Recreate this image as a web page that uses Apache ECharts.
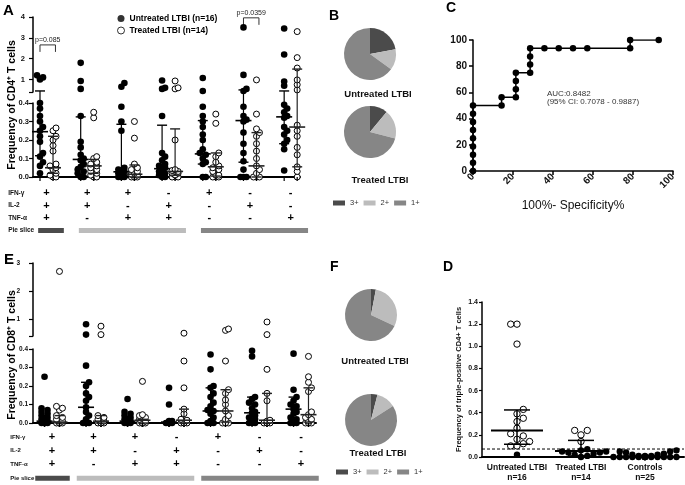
<!DOCTYPE html>
<html><head><meta charset="utf-8">
<script src="https://cdn.jsdelivr.net/npm/echarts@6/dist/echarts.min.js"></script>
<style>html,body{margin:0;padding:0;background:#fff}#c{width:685px;height:485px}</style>
</head><body><div id="c"></div>
<script>
const FONT = '"Liberation Sans", Arial, sans-serif';

// ---------- DATA ----------
const cytokineRows = ['IFN-γ', 'IL-2', 'TNF-α'];
const comboSigns = [['+','+','+'],['+','+','-'],['+','-','+'],['-','+','+'],['+','-','-'],['-','+','-'],['-','-','+']];
const pieSliceNames = ['3+', '2+', '1+'];
const pieSliceGroups = [[0, 0], [1, 3], [4, 6]];
const legendUntreated = 'Untreated LTBI (n=16)';
const legendTreated = 'Treated LTBI (n=14)';

// Panel A: CD4 (frequency per column, 7 cytokine combinations)
const cd4Untreated = [
  [1.2, 1.1, 1.0, 0.4, 0.37, 0.33, 0.3, 0.27, 0.25, 0.22, 0.19, 0.13, 0.11, 0.08, 0.06, 0.02],
  [1.8, 0.93, 0.55, 0.33, 0.19, 0.16, 0.12, 0.1, 0.09, 0.07, 0.055, 0.04, 0.03, 0.02, 0, 0],
  [0.83, 0.65, 0.38, 0.3, 0.25, 0.05, 0.04, 0.03, 0.03, 0.02, 0.01, 0.01, 0, 0, 0, 0],
  [0.95, 0.6, 0.55, 0.33, 0.13, 0.11, 0.09, 0.07, 0.06, 0.05, 0.045, 0.03, 0.02, 0.01, 0, 0],
  [1.07, 0.45, 0.38, 0.33, 0.3, 0.27, 0.23, 0.2, 0.15, 0.13, 0.12, 0.1, 0.08, 0.07, 0, 0],
  [3.5, 1.22, 0.55, 0.45, 0.38, 0.33, 0.31, 0.3, 0.24, 0.18, 0.13, 0.085, 0.04, 0, 0, 0],
  [3.45, 2.2, 0.9, 0.7, 0.39, 0.37, 0.35, 0.33, 0.32, 0.27, 0.25, 0.23, 0.2, 0.18, 0.15, 0.035]
];
const cd4Treated = [
  [0.265, 0.25, 0.22, 0.2, 0.17, 0.14, 0.07, 0.06, 0.05, 0.04, 0.02, 0.01, 0, 0],
  [0.35, 0.32, 0.11, 0.1, 0.08, 0.07, 0.06, 0.05, 0.04, 0.03, 0.02, 0.01, 0, 0],
  [0.3, 0.21, 0.07, 0.05, 0.04, 0.03, 0.02, 0.015, 0.01, 0.01, 0, 0, 0, 0],
  [0.93, 0.6, 0.55, 0.2, 0.04, 0.035, 0.03, 0.03, 0.02, 0.02, 0.01, 0, 0, 0],
  [0.34, 0.29, 0.13, 0.11, 0.08, 0.06, 0.05, 0.04, 0.03, 0.01, 0.01, 0, 0, 0],
  [0.98, 0.34, 0.26, 0.24, 0.22, 0.18, 0.14, 0.1, 0.06, 0.04, 0.02, 0, 0, 0],
  [3.3, 2.05, 1.55, 0.98, 0.75, 0.5, 0.28, 0.25, 0.22, 0.16, 0.12, 0.055, 0.03, 0]
];
// [Q1, median, Q3]
const cd4UntreatedIQR = [[0.115,0.245,0.45],[0.055,0.095,0.325],[0,0.028,0.285],[0.02,0.045,0.28],[0.07,0.125,0.305],[0.08,0.305,0.5],[0.18,0.325,0.45]];
const cd4TreatedIQR = [[0.02,0.05,0.22],[0.02,0.06,0.095],[0,0.015,0.065],[0.01,0.03,0.26],[0.005,0.055,0.13],[0,0.06,0.24],[0.055,0.27,1.5]];
const cd4PLabels = ['p=0.085', 'p=0.0359'];
const cd4PColumns = [0, 5];
const cd4PHeights = [2.66, 3.96];

// Panel E: CD8
const cd8Untreated = [
  [0.25, 0.08, 0.07, 0.06, 0.05, 0.04, 0.03, 0.02, 0.01, 0.01, 0, 0, 0, 0, 0, 0],
  [0.82, 0.45, 0.31, 0.22, 0.2, 0.16, 0.14, 0.12, 0.085, 0.06, 0.04, 0.02, 0, 0, 0, 0],
  [0.13, 0.06, 0.05, 0.04, 0.03, 0.02, 0.02, 0.01, 0.01, 0, 0, 0, 0, 0, 0, 0],
  [0.19, 0.1, 0.01, 0.01, 0, 0, 0, 0, 0, 0, 0, 0, 0, 0, 0, 0],
  [0.37, 0.29, 0.2, 0.19, 0.16, 0.14, 0.11, 0.09, 0.07, 0.065, 0.05, 0.03, 0.01, 0, 0, 0],
  [0.39, 0.36, 0.14, 0.13, 0.11, 0.1, 0.08, 0.06, 0.055, 0.04, 0.03, 0.02, 0.01, 0, 0, 0],
  [0.375, 0.18, 0.14, 0.12, 0.1, 0.09, 0.075, 0.06, 0.05, 0.03, 0.02, 0.01, 0, 0, 0, 0]
];
const cd8Treated = [
  [2.7, 0.09, 0.08, 0.07, 0.04, 0.03, 0.02, 0.01, 0.01, 0, 0, 0, 0, 0],
  [0.75, 0.45, 0.04, 0.03, 0.02, 0.01, 0.01, 0, 0, 0, 0, 0, 0, 0],
  [0.225, 0.045, 0.04, 0.03, 0.02, 0.01, 0.01, 0, 0, 0, 0, 0, 0, 0],
  [0.5, 0.335, 0.19, 0.075, 0.05, 0.02, 0.015, 0.01, 0, 0, 0, 0, 0, 0],
  [0.65, 0.6, 0.335, 0.18, 0.16, 0.125, 0.1, 0.065, 0.04, 0.02, 0, 0, 0, 0],
  [0.9, 0.45, 0.29, 0.16, 0.12, 0.015, 0.01, 0, 0, 0, 0, 0, 0, 0],
  [0.36, 0.25, 0.22, 0.19, 0.17, 0.06, 0.045, 0.03, 0.02, 0.01, 0, 0, 0, 0]
];
const cd8UntreatedIQR = [[0,0.01,0.04],[0,0.085,0.22],[0,0.01,0.035],[0,0.005,0.01],[0.005,0.065,0.19],[0,0.055,0.14],[0.005,0.075,0.14]];
const cd8TreatedIQR = [[0,0.005,0.04],[0,0.01,0.04],[0,0.015,0.02],[0,0.015,0.075],[0.005,0.065,0.18],[0,0.015,0.16],[0.005,0.045,0.19]];

// Pies (% of 3+, 2+, 1+)
const pieBUntreated = [22, 13, 65];
const pieBTreated = [11, 18, 71];
const pieFUntreated = [3, 29, 68];
const pieFTreated = [4, 12, 84];

// Panel C: ROC
const rocFpr = [0,0,0,0,0,0,0,0,0,14.29,14.29,21.43,21.43,21.43,21.43,28.57,28.57,28.57,28.57,35.71,42.86,50,57.14,78.57,78.57,92.86];
const rocSens = [0,6.25,12.5,18.75,25,31.25,37.5,43.75,50,50,56.25,56.25,62.5,68.75,75,75,81.25,87.5,93.75,93.75,93.75,93.75,93.75,93.75,100,100];
const aucLines = ['AUC:0.8482', '(95% CI: 0.7078 - 0.9887)'];

// Panel D
const dGroups = ['Untreated LTBI', 'Treated LTBI', 'Controls'];
const dCounts = ['n=16', 'n=14', 'n=25'];
const dUntreated = [1.2, 1.2, 1.02, 0.43, 0.39, 0.35, 0.32, 0.26, 0.21, 0.19, 0.16, 0.14, 0.12, 0.1, 0.1, 0.02];
const dTreated = [0.24, 0.24, 0.2, 0.14, 0.07, 0.06, 0.05, 0.05, 0.04, 0.04, 0.03, 0.02, 0.01, 0];
const dControls = [0.06, 0.05, 0.05, 0.04, 0.03, 0.02, 0.02, 0.01, 0.01, 0.01, 0, 0, 0, 0, 0, 0, 0, 0, 0, 0, 0, 0, 0, 0, 0];
const dIQR = [[0.115, 0.24, 0.425], [0.01, 0.055, 0.15], [0, 0, 0.01]];
const dCutoff = 0.072;

// ---------- STYLE ----------
const sliceColors = { '3+': '#4b4b4b', '2+': '#bcbcbc', '1+': '#868686' };

function swarm(pts, step, maxK, minD) {
  const ks = [0];
  for (let k = 1; k <= maxK; k++) ks.push(k, -k);
  const placed = [];
  pts.forEach(p => {
    let bx = p[0], bs = -1;
    for (const k of ks) {
      const cx = p[0] + k * step;
      let dmin = Infinity;
      for (const q of placed) { const d = Math.hypot(cx - q[0], p[1] - q[1]); if (d < dmin) dmin = d; }
      if (dmin >= minD) { bx = cx; break; }
      if (dmin > bs) { bs = dmin; bx = cx; }
    }
    placed.push([bx, p[1]]);
  });
  return placed;
}
function ln(x1, y1, x2, y2, w, c) {
  return { type: 'line', shape: { x1, y1, x2, y2 }, style: { stroke: c || '#000', lineWidth: w } };
}
function makeCols(untreated, treated, uIQR, tIQR, off) {
  const cols = [];
  untreated.forEach((v, i) => {
    cols.push({ x: i - off, vals: v, iqr: uIQR[i], filled: true });
    cols.push({ x: i + off, vals: treated[i], iqr: tIQR[i], filled: false });
  });
  return cols;
}
function colSeries(cols, idx, part, brk, gap) {
  return {
    type: 'custom', xAxisIndex: idx, yAxisIndex: idx, silent: true, clip: false, z: 5,
    data: cols.map(c => [c.x, 0]),
    renderItem: (params, api) => {
      const c = cols[params.dataIndex];
      const ch = [];
      const vals = c.vals.filter(v => part === 'upper' ? v > brk : v <= brk).sort((a, b) => a - b);
      const pts = vals.map(v => api.coord([c.x, v]));
      swarm(pts, 3, 1, 4).forEach(p => {
        ch.push({ type: 'circle', shape: { cx: p[0], cy: p[1], r: c.filled ? 3.3 : 3 },
          style: c.filled ? { fill: '#000' } : { fill: '#fff', stroke: '#000', lineWidth: 1 } });
      });
      const [q1, med, q3] = c.iqr;
      const xc = api.coord([c.x, 0])[0];
      const col = c.filled ? '#000' : '#222';
      if (part === 'upper') {
        if (q3 > brk) {
          const yT = api.coord([c.x, q3])[1];
          const yB = api.coord([c.x, brk])[1] + gap;
          ch.push(ln(xc, yT, xc, yB, 1.2, col));
          ch.push(ln(xc - 5, yT, xc + 5, yT, 1.4, col));
        }
      } else {
        const y0 = api.coord([c.x, 0])[1];
        const y1 = api.coord([c.x, q1])[1];
        const yT = q3 > brk ? api.coord([c.x, brk])[1] : api.coord([c.x, q3])[1];
        const ym = api.coord([c.x, med])[1];
        ch.push(ln(xc, y1, xc, yT, 1.2, col));
        ch.push(ln(xc - 5, y1, xc + 5, y1, 1.4, col));
        if (q3 <= brk) ch.push(ln(xc - 5, yT, xc + 5, yT, 1.4, col));
        ch.push(ln(xc - 8, ym, xc + 8, ym, 1.6, col));
        ch.push(ln(xc, y0, xc, y0 + 4, 1.2, '#000'));
      }
      return { type: 'group', children: ch };
    }
  };
}
function signSeries(idx) {
  const items = [], txt = [];
  comboSigns.forEach((s, i) => s.forEach((sg, r) => { items.push([i, 3 - r]); txt.push(sg); }));
  return {
    type: 'custom', xAxisIndex: idx, yAxisIndex: idx, silent: true, clip: false, data: items,
    renderItem: (params, api) => {
      const p = api.coord([api.value(0), api.value(1)]);
      return { type: 'text', x: p[0], y: p[1], style: { text: txt[params.dataIndex], align: 'center', verticalAlign: 'middle', fill: '#000', font: 'bold 11px ' + FONT } };
    }
  };
}
function sliceSeries(idx, insetL, insetR) {
  return {
    type: 'custom', xAxisIndex: idx, yAxisIndex: idx, silent: true, clip: false,
    data: pieSliceGroups.map(g => [g[0], 0, g[1]]),
    renderItem: (params, api) => {
      const g = pieSliceGroups[params.dataIndex];
      const p0 = api.coord([g[0], 0]), p1 = api.coord([g[1], 0]);
      const bw = api.size([1, 0])[0];
      return { type: 'rect', shape: { x: p0[0] - bw / 2 + insetL, y: p0[1] - 2.5, width: p1[0] - p0[0] + bw - insetL - insetR, height: 5 },
        style: { fill: sliceColors[pieSliceNames[params.dataIndex]] } };
    }
  };
}
function pie(center, vals) {
  return { type: 'pie', center, radius: [0, 26], startAngle: 90, clockwise: true, silent: true,
    label: { show: false }, labelLine: { show: false }, emphasis: { disabled: true },
    itemStyle: { borderWidth: 0 },
    data: pieSliceNames.map((n, i) => ({ name: n, value: vals[i], itemStyle: { color: sliceColors[n] } })) };
}

const colsA = makeCols(cd4Untreated, cd4Treated, cd4UntreatedIQR, cd4TreatedIQR, 0.16);
const colsE = makeCols(cd8Untreated, cd8Treated, cd8UntreatedIQR, cd8TreatedIQR, 0.18);
const dCols = [dUntreated, dTreated, dControls].map((v, i) => ({ x: i, vals: v, iqr: dIQR[i] }));

const blackLine = w => ({ show: true, onZero: false, lineStyle: { color: '#000', width: w } });
const lbl = (size, extra) => Object.assign({ fontSize: size, fontWeight: 'bold', fontFamily: FONT, color: '#111' }, extra || {});
const catData = comboSigns.map((_, i) => String(i));
const tableRows = ['Pie slice'].concat(cytokineRows.slice().reverse());

const xA = { min: -0.332, max: 6.229 };
const xE = { min: -0.458, max: 6.361 };

const option = {
  animation: false,
  grid: [
    { left: 33, top: 17, width: 267, height: 75 },
    { left: 33, top: 103, width: 267, height: 74 },
    { left: 26.15, top: 186.75, width: 284.9, height: 50 },
    { left: 473, top: 40, width: 200, height: 131 },
    { left: 33, top: 263, width: 283, height: 73 },
    { left: 33, top: 349, width: 283, height: 74 },
    { left: 31.25, top: 430, width: 290.5, height: 56 },
    { left: 482, top: 302, width: 202, height: 155 }
  ],
  xAxis: [
    Object.assign({ gridIndex: 0, type: 'value', show: false }, xA),
    Object.assign({ gridIndex: 1, type: 'value', axisLine: blackLine(2), axisTick: { show: false }, axisLabel: { show: false }, splitLine: { show: false } }, xA),
    { gridIndex: 2, type: 'category', data: catData, show: false },
    { gridIndex: 3, type: 'value', min: 0, max: 100, interval: 20, name: '100%- Specificity%', nameLocation: 'middle', nameGap: 29,
      nameTextStyle: { fontSize: 12, fontFamily: FONT, color: '#111' }, axisLine: blackLine(1.5),
      axisTick: { length: 4, lineStyle: { color: '#000', width: 1.5 } }, axisLabel: lbl(10, { rotate: 45, margin: 4 }), splitLine: { show: false } },
    Object.assign({ gridIndex: 4, type: 'value', show: false }, xE),
    Object.assign({ gridIndex: 5, type: 'value', axisLine: blackLine(2), axisTick: { show: false }, axisLabel: { show: false }, splitLine: { show: false } }, xE),
    { gridIndex: 6, type: 'category', data: catData, show: false },
    { gridIndex: 7, type: 'value', min: -0.547, max: 2.61, axisLine: blackLine(2), axisTick: { show: false }, splitLine: { show: false },
      axisLabel: lbl(8.5, { customValues: [0, 1, 2], lineHeight: 10, margin: 6, formatter: v => dGroups[Math.round(v)] + '\n' + dCounts[Math.round(v)] }) }
  ],
  yAxis: [
    { gridIndex: 0, type: 'value', min: 0.4, max: 4, axisLine: blackLine(1.5), splitLine: { show: false },
      axisTick: { customValues: [0.4, 1, 2, 3, 4], length: 4, lineStyle: { color: '#000', width: 1.2 } },
      axisLabel: lbl(7.5, { customValues: [1, 2, 3, 4], margin: 8 }) },
    { gridIndex: 1, type: 'value', min: 0, max: 0.4, interval: 0.1, axisLine: blackLine(1.5), splitLine: { show: false },
      axisTick: { length: 4, lineStyle: { color: '#000', width: 1.2 } }, axisLabel: lbl(7.5, { margin: 4, formatter: v => v.toFixed(1) }) },
    { gridIndex: 2, type: 'category', data: tableRows, axisLine: { show: false }, axisTick: { show: false },
      axisLabel: lbl(6.5, { align: 'left', margin: 18 }) },
    { gridIndex: 3, type: 'value', min: 0, max: 100, interval: 20, axisLine: blackLine(1.5), splitLine: { show: false },
      axisTick: { length: 4, lineStyle: { color: '#000', width: 1.5 } }, axisLabel: lbl(10, { margin: 6 }) },
    { gridIndex: 4, type: 'value', min: 0.4, max: 3, axisLine: blackLine(1.5), splitLine: { show: false },
      axisTick: { customValues: [0.4, 1, 2, 3], length: 4, lineStyle: { color: '#000', width: 1.2 } },
      axisLabel: lbl(6.5, { customValues: [1, 2, 3], margin: 13 }) },
    { gridIndex: 5, type: 'value', min: 0, max: 0.4, interval: 0.1, axisLine: blackLine(1.5), splitLine: { show: false },
      axisTick: { length: 4, lineStyle: { color: '#000', width: 1.2 } }, axisLabel: lbl(6.5, { margin: 5, formatter: v => v.toFixed(1) }) },
    { gridIndex: 6, type: 'category', data: tableRows, axisLine: { show: false }, axisTick: { show: false },
      axisLabel: lbl(6, { align: 'left', margin: 21 }) },
    { gridIndex: 7, type: 'value', min: 0, max: 1.4, interval: 0.2, axisLine: blackLine(1.5), splitLine: { show: false },
      axisTick: { length: 3, lineStyle: { color: '#000', width: 1.2 } }, axisLabel: lbl(7, { margin: 4, formatter: v => v.toFixed(1) }),
      name: 'Frequency of triple-positive CD4+ T cells', nameLocation: 'middle', nameGap: 19, nameTextStyle: lbl(7.5) }
  ],
  legend: [
    { left: 117, top: 14, orient: 'vertical', itemGap: 3, itemWidth: 7, itemHeight: 7, padding: 0, selectedMode: false,
      textStyle: lbl(8.5, { color: '#000' }),
      data: [{ name: legendUntreated, icon: 'circle', itemStyle: { color: '#000' } },
             { name: legendTreated, icon: 'circle', itemStyle: { color: '#fff', borderColor: '#000', borderWidth: 1 } }] },
    { left: 333, top: 199, itemWidth: 12, itemHeight: 5, itemGap: 5, padding: 0, selectedMode: false, icon: 'rect',
      textStyle: { fontSize: 7.5, color: '#333', fontFamily: FONT }, data: pieSliceNames },
    { left: 336, top: 468, itemWidth: 12, itemHeight: 5, itemGap: 5, padding: 0, selectedMode: false, icon: 'rect',
      textStyle: { fontSize: 7.5, color: '#333', fontFamily: FONT }, data: pieSliceNames }
  ],
  series: [
    { type: 'scatter', name: legendUntreated, xAxisIndex: 0, yAxisIndex: 0, data: [], itemStyle: { color: '#000' } },
    { type: 'scatter', name: legendTreated, xAxisIndex: 0, yAxisIndex: 0, data: [], itemStyle: { color: '#fff', borderColor: '#000', borderWidth: 1 } },
    colSeries(colsA, 0, 'upper', 0.4, 11),
    colSeries(colsA, 1, 'lower', 0.4, 11),
    {
      type: 'custom', xAxisIndex: 0, yAxisIndex: 0, silent: true, clip: false,
      data: cd4PColumns.map((c, i) => [c, cd4PHeights[i]]),
      renderItem: (params, api) => {
        const c = cd4PColumns[params.dataIndex], h = cd4PHeights[params.dataIndex];
        const pL = api.coord([c - 0.16, h]), pR = api.coord([c + 0.22, h]);
        return { type: 'group', children: [
          ln(pL[0], pL[1], pR[0], pR[1], 1, '#333'),
          ln(pL[0], pL[1], pL[0], pL[1] + 7, 1, '#333'),
          ln(pR[0], pR[1], pR[0], pR[1] + 7, 1, '#333'),
          { type: 'text', x: (pL[0] + pR[0]) / 2, y: pL[1] - 5, style: { text: cd4PLabels[params.dataIndex], align: 'center', verticalAlign: 'middle', fill: '#222', font: '7px ' + FONT } }
        ] };
      }
    },
    signSeries(2),
    sliceSeries(2, 12, 3),
    colSeries(colsE, 4, 'upper', 0.4, 13),
    colSeries(colsE, 5, 'lower', 0.4, 13),
    signSeries(6),
    sliceSeries(6, 4, 3),
    { type: 'line', xAxisIndex: 3, yAxisIndex: 3, silent: true, data: rocFpr.map((x, i) => [x, rocSens[i]]),
      symbol: 'circle', symbolSize: 6.5, itemStyle: { color: '#000' }, lineStyle: { color: '#000', width: 1.5 } },
    pie([370, 54], pieBUntreated),
    pie([370, 132], pieBTreated),
    pie([371, 315], pieFUntreated),
    pie([371, 420], pieFTreated),
    {
      type: 'custom', xAxisIndex: 7, yAxisIndex: 7, silent: true, clip: false, z: 5,
      data: dCols.map(c => [c.x, 0]),
      renderItem: (params, api) => {
        const c = dCols[params.dataIndex];
        const ch = [];
        const vals = c.vals.slice().sort((a, b) => a - b);
        const pts = vals.map(v => api.coord([c.x, v]));
        swarm(pts, 6.3, 5, 6.3).forEach((p, i) => {
          const open = vals[i] > dCutoff;
          ch.push({ type: 'circle', shape: { cx: p[0], cy: p[1], r: 3.2 },
            style: open ? { fill: '#fff', stroke: '#000', lineWidth: 1 } : { fill: '#000' } });
        });
        const [q1, med, q3] = c.iqr;
        const xc = api.coord([c.x, 0])[0];
        const y1 = api.coord([c.x, q1])[1], ym = api.coord([c.x, med])[1], y3 = api.coord([c.x, q3])[1];
        ch.push(ln(xc, y1, xc, y3, 1.5));
        ch.push(ln(xc - 13, y1, xc + 13, y1, 1.5));
        ch.push(ln(xc - 13, y3, xc + 13, y3, 1.5));
        ch.push(ln(xc - 26, ym, xc + 26, ym, 2));
        return { type: 'group', children: ch };
      }
    },
    {
      type: 'custom', xAxisIndex: 7, yAxisIndex: 7, silent: true, clip: false,
      data: [[0, dCutoff]],
      renderItem: (params, api) => {
        const cs = params.coordSys;
        const y = api.coord([0, dCutoff])[1];
        return { type: 'line', shape: { x1: cs.x, y1: y, x2: cs.x + cs.width, y2: y }, style: { stroke: '#000', lineWidth: 1, lineDash: [3, 2] } };
      }
    }
  ],
  graphic: [
    { type: 'text', left: 3, top: 3, style: { text: 'A', font: 'bold 15px ' + FONT, fill: '#000' } },
    { type: 'text', left: 329, top: 9, style: { text: 'B', font: 'bold 14px ' + FONT, fill: '#000' } },
    { type: 'text', left: 446, top: 1, style: { text: 'C', font: 'bold 14px ' + FONT, fill: '#000' } },
    { type: 'text', left: 4, top: 252, style: { text: 'E', font: 'bold 15px ' + FONT, fill: '#000' } },
    { type: 'text', left: 330, top: 260, style: { text: 'F', font: 'bold 14px ' + FONT, fill: '#000' } },
    { type: 'text', left: 443, top: 260, style: { text: 'D', font: 'bold 14px ' + FONT, fill: '#000' } },
    { type: 'text', x: 12, y: 105, rotation: Math.PI / 2, style: { text: 'Frequency of CD4⁺ T cells', align: 'center', verticalAlign: 'middle', font: 'bold 10.5px ' + FONT, fill: '#000' } },
    { type: 'text', x: 12, y: 355, rotation: Math.PI / 2, style: { text: 'Frequency of CD8⁺ T cells', align: 'center', verticalAlign: 'middle', font: 'bold 10.5px ' + FONT, fill: '#000' } },
    { type: 'text', x: 378, y: 94, style: { text: 'Untreated LTBI', align: 'center', verticalAlign: 'middle', font: 'bold 9.5px ' + FONT, fill: '#111' } },
    { type: 'text', x: 380, y: 180, style: { text: 'Treated LTBI', align: 'center', verticalAlign: 'middle', font: 'bold 9.5px ' + FONT, fill: '#111' } },
    { type: 'text', x: 375, y: 361, style: { text: 'Untreated LTBI', align: 'center', verticalAlign: 'middle', font: 'bold 9.5px ' + FONT, fill: '#111' } },
    { type: 'text', x: 378, y: 453, style: { text: 'Treated LTBI', align: 'center', verticalAlign: 'middle', font: 'bold 9.5px ' + FONT, fill: '#111' } },
    { type: 'text', x: 547, y: 94, style: { text: aucLines[0], align: 'left', verticalAlign: 'middle', font: '8px ' + FONT, fill: '#333' } },
    { type: 'text', x: 547, y: 102, style: { text: aucLines[1], align: 'left', verticalAlign: 'middle', font: '8px ' + FONT, fill: '#333' } }
  ]
};

const chart = echarts.init(document.getElementById('c'), null, { renderer: 'canvas' });
chart.setOption(option);
</script></body></html>
